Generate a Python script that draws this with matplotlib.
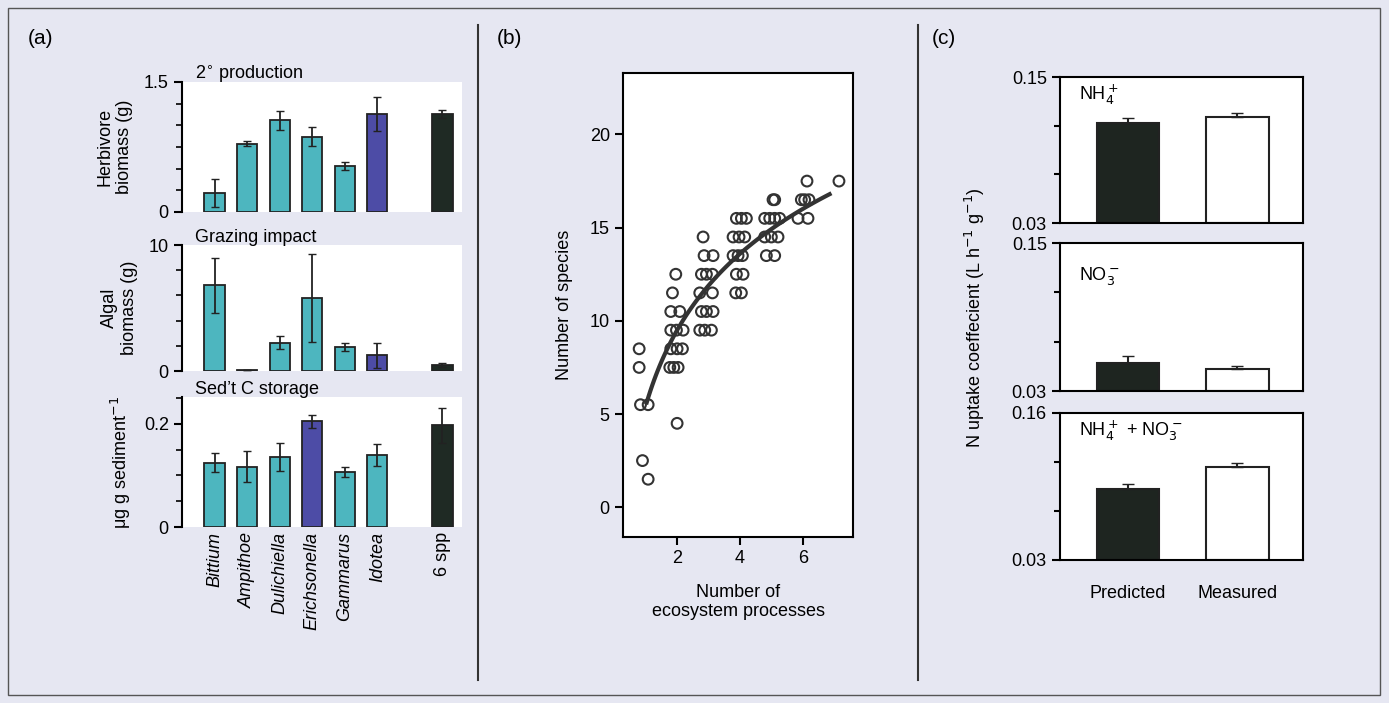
import numpy as np
import matplotlib.pyplot as plt
from matplotlib.patches import Rectangle

# ---- panel (a) data ----
species = ["Bittium", "Ampithoe", "Dulichiella", "Erichsonella", "Gammarus", "Idotea", "6 spp"]
bar_pos = [0, 1, 2, 3, 4, 5, 7]
herb = [0.22, 0.79, 1.06, 0.87, 0.53, 1.13, 1.13]
herb_err = [0.16, 0.03, 0.11, 0.11, 0.05, 0.20, 0.05]
algal = [6.8, 0.05, 2.25, 5.8, 1.9, 1.25, 0.5]
algal_err = [2.2, 0.0, 0.5, 3.5, 0.3, 1.0, 0.15]
sedc = [0.125, 0.117, 0.135, 0.205, 0.107, 0.14, 0.197]
sedc_err = [0.018, 0.03, 0.027, 0.013, 0.01, 0.021, 0.034]
bar_cols = ["#4db6bf"] * 7
bar_cols[5] = "#4d4ca6"
bar_cols[6] = "#1f2a24"
sed_cols = ["#4db6bf"] * 7
sed_cols[3] = "#4d4ca6"
sed_cols[6] = "#1f2a24"

# ---- panel (b) data: (number of processes, number of species) ----
zx = [118, 122, 145, 128, 145, 118,
      228, 218, 213, 240, 213, 230, 250, 213, 232, 248, 210, 222, 235, 232,
      310, 313, 340, 305, 320, 338, 300, 338, 305, 320, 340, 300, 315, 335,
      410, 425, 440, 400, 418, 435, 400, 415, 428, 410, 430, 408, 425,
      520, 525, 495, 510, 525, 540, 495, 515, 535, 500, 525,
      622, 605, 615, 628, 595, 625, 718]
n_species = [8.5, 5.5, 5.5, 2.5, 1.5, 7.5,
             12.5, 11.5, 10.5, 10.5, 9.5, 9.5, 9.5, 8.5, 8.5, 8.5, 7.5, 7.5, 7.5, 4.5,
             14.5, 13.5, 13.5, 12.5, 12.5, 12.5, 11.5, 11.5, 10.5, 10.5, 10.5, 9.5, 9.5, 9.5,
             15.5, 15.5, 15.5, 14.5, 14.5, 14.5, 13.5, 13.5, 13.5, 12.5, 12.5, 11.5, 11.5,
             16.5, 16.5, 15.5, 15.5, 15.5, 15.5, 14.5, 14.5, 14.5, 13.5, 13.5,
             17.5, 16.5, 16.5, 16.5, 15.5, 15.5, 17.5]
n_proc = [2 + (v - 231) / 95 for v in zx]

# ---- panel (c) data ----
c_labels = ["Predicted", "Measured"]
nh4 = [0.112, 0.117]
nh4_err = [0.0047, 0.003]
no3 = [0.053, 0.0476]
no3_err = [0.005, 0.003]
both = [0.0926, 0.112]
both_err = [0.005, 0.0035]

W, H = 1389, 703
plt.rcParams['font.family'] = 'Liberation Sans'
fig = plt.figure(figsize=(W / 100, H / 100), dpi=100, facecolor="#e6e7f2")

def box(x0, y0, x1, y1):
    return [x0 / W, 1 - y1 / H, (x1 - x0) / W, (y1 - y0) / H]

fig.add_artist(Rectangle((8 / W, 8 / H), 1372 / W, 687 / H, transform=fig.transFigure,
                         fill=False, edgecolor="#555555", lw=1))
for xl in (478, 918):
    fig.add_artist(plt.Line2D([xl / W] * 2, [1 - 25 / H, 1 - 680 / H], color="#333333", lw=1.5))
for lab, xp in (("(a)", 28), ("(b)", 497), ("(c)", 932)):
    fig.text(xp / W, 1 - 38 / H, lab, fontsize=15, va="center")

# panel (a)
a_boxes = [(82, 212), (245, 371), (397, 527)]
a_data = [(herb, herb_err, bar_cols, 1.5, "2$^{\\circ}$ production", "Herbivore\nbiomass (g)"),
          (algal, algal_err, bar_cols, 10, "Grazing impact", "Algal\nbiomass (g)"),
          (sedc, sedc_err, sed_cols, 0.252, "Sed\u2019t C storage", "\u03bcg g sediment$^{-1}$")]
for i, ((y0, y1), (vals, errs, cols, ymax, title, ylab)) in enumerate(zip(a_boxes, a_data)):
    ax = fig.add_axes(box(182, y0, 462, y1))
    ax.bar(bar_pos, vals, width=0.62, color=cols, edgecolor="#222222", lw=1.3)
    ax.errorbar(bar_pos, vals, yerr=errs, fmt="none", ecolor="#222222", capsize=3, lw=1.3)
    ax.set_xlim(-1.0, 7.6)
    ax.set_ylim(0, ymax)
    for s in ("top", "right", "bottom"):
        ax.spines[s].set_visible(False)
    ax.spines["left"].set_linewidth(1.5)
    ax.tick_params(axis="y", labelsize=13, width=1.5, length=6)
    ax.tick_params(axis="x", which="both", bottom=False, labelbottom=False)
    if i == 0:
        ax.set_yticks([0, 1.5], ["0", "1.5"])
        ax.set_yticks([0.25, 0.5, 0.75, 1.0, 1.25], minor=True)
    elif i == 1:
        ax.set_yticks([0, 10])
        ax.set_yticks([2, 4, 6, 8], minor=True)
    else:
        ax.set_yticks([0, 0.2], ["0", "0.2"])
        ax.set_yticks([0.05, 0.1, 0.15, 0.25], minor=True)
    ax.tick_params(axis="y", which="minor", width=1.2, length=4)
    fig.text(195 / W, 1 - (y0 - 8) / H, title, fontsize=13, va="center")
    ax.set_ylabel(ylab, fontsize=13, labelpad=8)
    if i == 2:
        for p, name in zip(bar_pos, species):
            ax.text(p, -0.04, name, rotation=90, ha="center", va="top", fontsize=13,
                    style="normal" if name == "6 spp" else "italic",
                    transform=ax.get_xaxis_transform())

# panel (b)
axb = fig.add_axes(box(623, 73, 853, 537))
axb.scatter(n_proc, n_species, s=60, facecolors="none", edgecolors="#333333", lw=1.5)
coef = np.polyfit(np.log(n_proc), n_species, 1)
xs = np.linspace(1.05, 6.83, 100)
axb.plot(xs, np.polyval(coef, np.log(xs)), color="#333333", lw=3)
axb.set_xlim(0.3, 7.57)
axb.set_ylim(-1.6, 23.3)
axb.set_xticks([2, 4, 6])
axb.set_yticks([0, 5, 10, 15, 20])
axb.tick_params(labelsize=13, width=1.5, length=6)
for s in axb.spines.values():
    s.set_linewidth(1.5)
axb.set_ylabel("Number of species", fontsize=13, labelpad=12)
axb.set_xlabel("Number of\necosystem processes", fontsize=13, labelpad=12)

# panel (c)
c_boxes = [(77, 223, 0.15, "NH$_4^+$"), (243, 391, 0.15, "NO$_3^-$"), (413, 560, 0.16, "NH$_4^+$ + NO$_3^-$")]
c_vals = [(nh4, nh4_err), (no3, no3_err), (both, both_err)]
for i, ((y0, y1, top, lab), (vals, errs)) in enumerate(zip(c_boxes, c_vals)):
    ax = fig.add_axes(box(1060, y0, 1303, y1))
    ax.bar([0, 1], np.array(vals) - 0.03, bottom=0.03, width=0.57,
           color=["#1e2520", "white"], edgecolor="#222222", lw=1.5)
    ax.errorbar([0, 1], vals, yerr=[[0, 0], errs], fmt="none", ecolor="#222222", capsize=4, lw=1.5)
    ax.set_xlim(-0.62, 1.6)
    ax.set_ylim(0.03, top)
    ax.set_yticks([0.03, top], ["0.03", f"{top:.2f}"])
    step = (top - 0.03) / 3
    ax.set_yticks([0.03 + step, 0.03 + 2 * step], minor=True)
    ax.tick_params(axis="y", which="both", labelsize=13, width=1.5, length=6)
    ax.tick_params(axis="y", which="minor", length=4)
    for s in ax.spines.values():
        s.set_linewidth(1.5)
    ax.text(0.08, 0.88 if i != 1 else 0.78, lab, transform=ax.transAxes, fontsize=13, va="center")
    if i == 2:
        ax.set_xticks([0, 1], c_labels, fontsize=13)
        ax.tick_params(axis="x", length=0, pad=18)
    else:
        ax.set_xticks([])
fig.text(975 / W, 1 - 318 / H, "N uptake coeffecient (L h$^{-1}$ g$^{-1}$)", rotation=90,
         fontsize=13, ha="center", va="center")

fig.savefig("out.png", dpi=100, facecolor=fig.get_facecolor())
